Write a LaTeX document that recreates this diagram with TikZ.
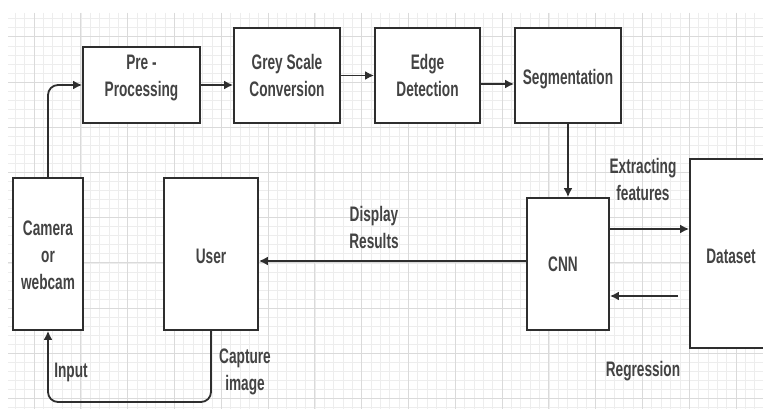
\documentclass[tikz,border=0pt]{standalone}
\usepackage{fontspec}
\setmainfont{Liberation Sans}
\usetikzlibrary{arrows.meta}
\definecolor{ink}{HTML}{2E2E2E}
\definecolor{gmin}{HTML}{EDEDED}
\definecolor{gmaj}{HTML}{DADADA}
\newcommand{\sq}[1]{\scalebox{0.65}[1]{\begin{tabular}{@{}c@{}}#1\end{tabular}}}
\begin{document}
\begin{tikzpicture}[x=1pt,y=-1pt,
  box/.style={draw=ink, line width=1.8pt, fill=white, inner sep=0pt},
  txt/.style={font=\fontsize{21}{27}\selectfont\bfseries, text=ink!90, inner sep=0pt},
  arr/.style={draw=ink, line width=1.8pt, -{Latex[length=9pt,width=9pt]}},
  gridminor/.style={draw=gmin, line width=0.6pt},
  gridmajor/.style={draw=gmaj, line width=0.9pt}]
\useasboundingbox (0,0) rectangle (763,409);
\fill[white] (0,0) rectangle (763,409);
% grid
\begin{scope}
\clip (8,13) rectangle (763,409);
\foreach \i in {-3,...,79} \draw[gridminor] ({34+9.36*\i},13) -- ({34+9.36*\i},409);
\foreach \i in {-3,...,42} \draw[gridminor] (8,{36.8+9.04*\i}) -- (763,{36.8+9.04*\i});
\foreach \i in {0,...,15} \draw[gridmajor] ({34+46.8*\i},13) -- ({34+46.8*\i},409);
\foreach \i in {0,...,8} \draw[gridmajor] (8,{36.8+45.2*\i}) -- (763,{36.8+45.2*\i});
\end{scope}
% boxes
\node[box, minimum width=117pt, minimum height=76pt] (pre) at (141.5,85) {};
\node[box, minimum width=106pt, minimum height=95pt] (grey) at (287,75.5) {};
\node[box, minimum width=105pt, minimum height=95pt] (edge) at (427.5,75.5) {};
\node[box, minimum width=106pt, minimum height=95pt] (seg) at (568,75.5) {};
\node[box, minimum width=70pt, minimum height=152pt] (cam) at (48,254) {};
\node[box, minimum width=94pt, minimum height=152pt] (user) at (211,254) {};
\node[box, minimum width=82pt, minimum height=132pt] (cnn) at (568,264) {};
\node[box, minimum width=80pt, minimum height=189pt] (data) at (730,253.5) {};
% box texts
\node[txt] (tpre) at (141.5,78) {\sq{Pre -\\Processing}};
\node[txt] (tgrey) at (287,78) {\sq{Grey Scale\\Conversion}};
\node[txt] (tedge) at (427.5,78) {\sq{Edge\\Detection}};
\node[txt] (tseg) at (568,79) {\sq{Segmentation}};
\node[txt] (tcam) at (48,257) {\sq{Camera\\or\\webcam}};
\node[txt] (tuser) at (211,258) {\sq{User}};
\node[txt] (tcnn) at (563,266) {\sq{CNN}};
\node[txt] (tdata) at (731,258) {\sq{Dataset}};
% edge labels
\node[txt] (lext) at (643,182) {\sq{Extracting\\features}};
\node[txt] (ldisp) at (374,230) {\sq{Display\\Results}};
\node[txt] (lreg) at (643,371) {\sq{Regression}};
\node[txt] (linp) at (71,372) {\sq{Input}};
\node[txt] (lcap) at (245,372) {\sq{Capture\\image}};
% connectors
\draw[arr, rounded corners=10pt] (cam.north) |- (pre.west);
\draw[arr] (pre.east) -- (pre.east -| grey.west);
\draw[arr] (grey.east) -- (edge.west);
\draw[arr] ([yshift=-8.5pt]edge.east) -- ([yshift=-8.5pt]seg.west);
\draw[arr] (seg.south) -- (cnn.north);
\draw[arr] ([yshift=35pt]cnn.east) -- ([yshift=35pt]cnn.east -| data.west);
\coordinate (rs) at (678,296);
\draw[arr] (rs) -- (rs -| cnn.east);
\draw[arr] ([yshift=3pt]cnn.west) -- ([yshift=3pt]cnn.west -| user.east);
\coordinate (bot) at (0,402);
\draw[arr, rounded corners=10pt] (user.south) |- (bot -| cam.south) -- (cam.south);
\end{tikzpicture}
\end{document}
